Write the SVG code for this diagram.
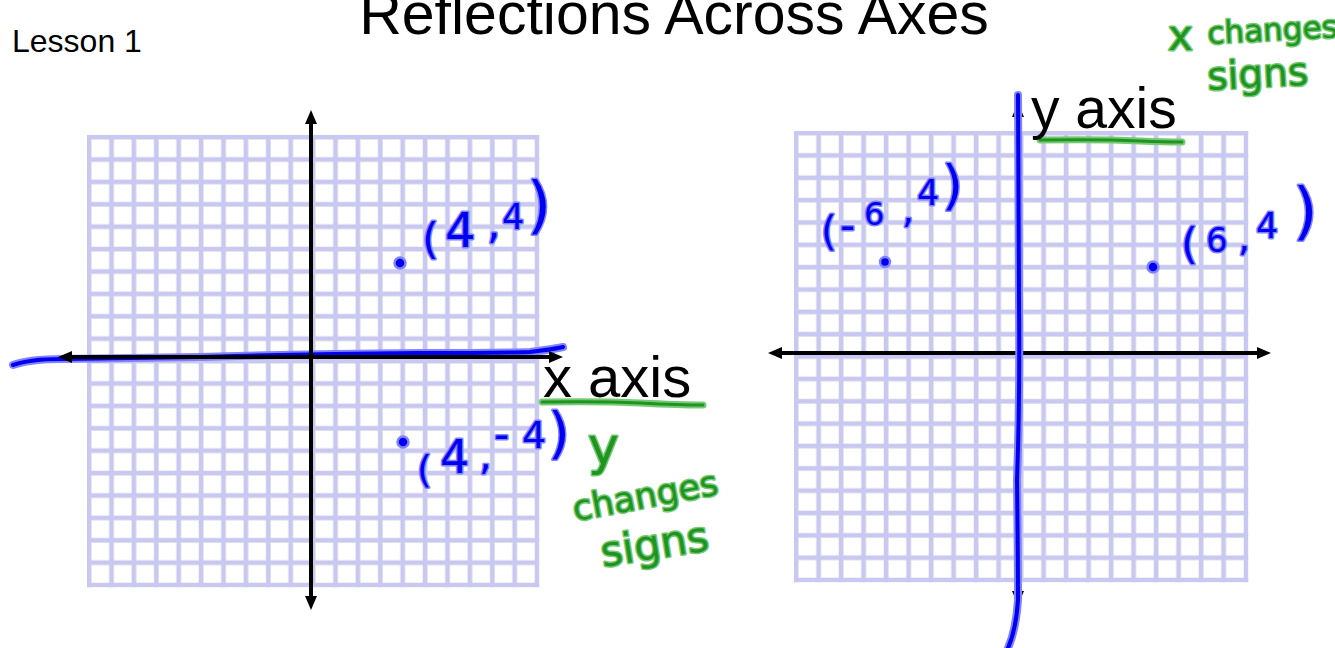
<svg xmlns="http://www.w3.org/2000/svg" width="1335" height="648" viewBox="0 0 1335 648">
<style>
.lbl{font-family:"Liberation Sans",Arial,sans-serif;fill:#000}
.axis{stroke:#000;stroke-width:4;fill:none}
.hb{font-family:"DejaVu Sans",sans-serif;fill:#0000f0;stroke:#8282ff;stroke-width:3;paint-order:stroke;stroke-linejoin:round}
.hg{font-family:"DejaVu Sans",sans-serif;fill:#1f951f;stroke:#76c976;stroke-width:3;paint-order:stroke;stroke-linejoin:round}
.bhalo{stroke:#8282ff;stroke-width:8;fill:none;stroke-linecap:round;stroke-linejoin:round}
.bcore{stroke:#0000f0;stroke-width:4;fill:none;stroke-linecap:round;stroke-linejoin:round}
.ghalo{stroke:#76c976;stroke-width:7;fill:none;stroke-linecap:round}
.gcore{stroke:#1f951f;stroke-width:3;fill:none;stroke-linecap:round}
.dot{fill:#0000f0;stroke:#8282ff;stroke-width:2.5}
</style>
<defs>
<pattern id="gridL" patternUnits="userSpaceOnUse" x="87" y="135" width="22.4" height="22.4">
<rect width="22.4" height="22.4" fill="#c8c8f2"/>
<rect x="4.3" y="4.3" width="18.1" height="18.1" fill="#fff" stroke="#e0e0e6" stroke-width="0.8"/>
</pattern>
<pattern id="gridR" patternUnits="userSpaceOnUse" x="794" y="131" width="22.5" height="22.35">
<rect width="22.5" height="22.35" fill="#c8c8f2"/>
<rect x="4.3" y="4.3" width="18.2" height="18.05" fill="#fff" stroke="#e0e0e6" stroke-width="0.8"/>
</pattern>
<marker id="arr" markerUnits="userSpaceOnUse" markerWidth="15" markerHeight="13" refX="3" refY="6" orient="auto-start-reverse">
<path d="M0,0 L14,6 L0,12 Z" fill="#000"/>
</marker>
</defs>
<rect width="1335" height="648" fill="#fff"/>

<g id="lesson"><text class="lbl" x="12" y="52" font-size="32">Lesson 1</text></g>
<g id="title"><text class="lbl" x="674" y="34" font-size="59" text-anchor="middle">Reflections Across Axes</text></g>

<g id="grid-left"><rect x="87" y="135" width="452.3" height="452.3" fill="url(#gridL)"/></g>
<g id="grid-right"><rect x="794" y="131" width="454.3" height="451.3" fill="url(#gridR)"/></g>

<g id="connectors">
<path class="bhalo" d="M13,365 Q30,359 62,359 L200,357 Q300,354 420,353 Q500,353 530,352 Q555,349 563,347"/>
<path class="bcore" d="M13,365 Q30,359 62,359 L200,357 Q300,354 420,353 Q500,353 530,352 Q555,349 563,347"/>
<line class="axis" x1="311" y1="121" x2="311" y2="599" marker-start="url(#arr)" marker-end="url(#arr)"/>
<line class="axis" x1="69" y1="357" x2="552" y2="357" marker-start="url(#arr)" marker-end="url(#arr)"/>
<line class="axis" x1="779" y1="353" x2="1260" y2="353" marker-start="url(#arr)" marker-end="url(#arr)"/>
<line class="axis" x1="1018" y1="114" x2="1018" y2="594" marker-start="url(#arr)" marker-end="url(#arr)"/>
<path class="bhalo" d="M1018,95 L1019,300 Q1020,400 1017,480 Q1018,560 1018,600 Q1016,630 1008,648"/>
<path class="bcore" d="M1018,95 L1019,300 Q1020,400 1017,480 Q1018,560 1018,600 Q1016,630 1008,648"/>
<path class="ghalo" d="M542,402 Q600,401 640,403 Q680,405 703,405"/>
<path class="gcore" d="M542,402 Q600,401 640,403 Q680,405 703,405"/>
<path class="ghalo" d="M1040,140 Q1100,139 1140,141 Q1165,142 1182,142"/>
<path class="gcore" d="M1040,140 Q1100,139 1140,141 Q1165,142 1182,142"/>
</g>

<g id="axis-labels">
<text class="lbl" x="543" y="397" font-size="58">x axis</text>
<text class="lbl" x="1031" y="128" font-size="57">y axis</text>
</g>

<g id="points">
<circle class="dot" cx="400" cy="263" r="5.5"/>
<circle class="dot" cx="403" cy="442" r="5.5"/>
<circle class="dot" cx="885" cy="262" r="5"/>
<circle class="dot" cx="1153" cy="267" r="5.5"/>
</g>

<g id="label-4-4">
<text class="hb"><tspan x="422" y="254" font-size="43">(</tspan><tspan x="445" y="247" font-size="48">4</tspan><tspan x="487" y="238" font-size="42">,</tspan><tspan x="502" y="229" font-size="35">4</tspan><tspan x="527" y="226" font-size="62">)</tspan></text>
</g>
<g id="label-4-neg4">
<text class="hb"><tspan x="417" y="482" font-size="38">(</tspan><tspan x="440" y="473" font-size="46">4</tspan><tspan x="479" y="469" font-size="40">,</tspan><tspan x="494" y="449" font-size="42">-</tspan><tspan x="522" y="448" font-size="38">4</tspan><tspan x="548" y="452" font-size="56">)</tspan></text>
</g>
<g id="label-neg6-4">
<text class="hb"><tspan x="821" y="245" font-size="40">(</tspan><tspan x="840" y="240" font-size="42">-</tspan><tspan x="864" y="225" font-size="32">6</tspan><tspan x="902" y="223" font-size="38">,</tspan><tspan x="917" y="205" font-size="35">4</tspan><tspan x="942" y="204" font-size="54">)</tspan></text>
</g>
<g id="label-6-4">
<text class="hb"><tspan x="1181" y="259" font-size="43">(</tspan><tspan x="1206" y="252" font-size="34">6</tspan><tspan x="1238" y="251" font-size="38">,</tspan><tspan x="1256" y="238" font-size="35">4</tspan><tspan x="1293" y="232" font-size="63">)</tspan></text>
</g>

<g id="note-y-changes">
<text class="hg" x="588" y="464" font-size="52">y</text>
<text class="hg" x="575" y="521" font-size="35" transform="rotate(-10.5 575 521)">changes</text>
<text class="hg" x="603" y="567" font-size="42" transform="rotate(-9 603 567)">signs</text>
</g>
<g id="note-x-changes">
<text class="hg" x="1168" y="50" font-size="42">x</text>
<text class="hg" x="1208" y="44" font-size="31" transform="rotate(-3 1208 44)">changes</text>
<text class="hg" x="1208" y="90" font-size="39" transform="rotate(-3 1208 90)">signs</text>
</g>
</svg>
